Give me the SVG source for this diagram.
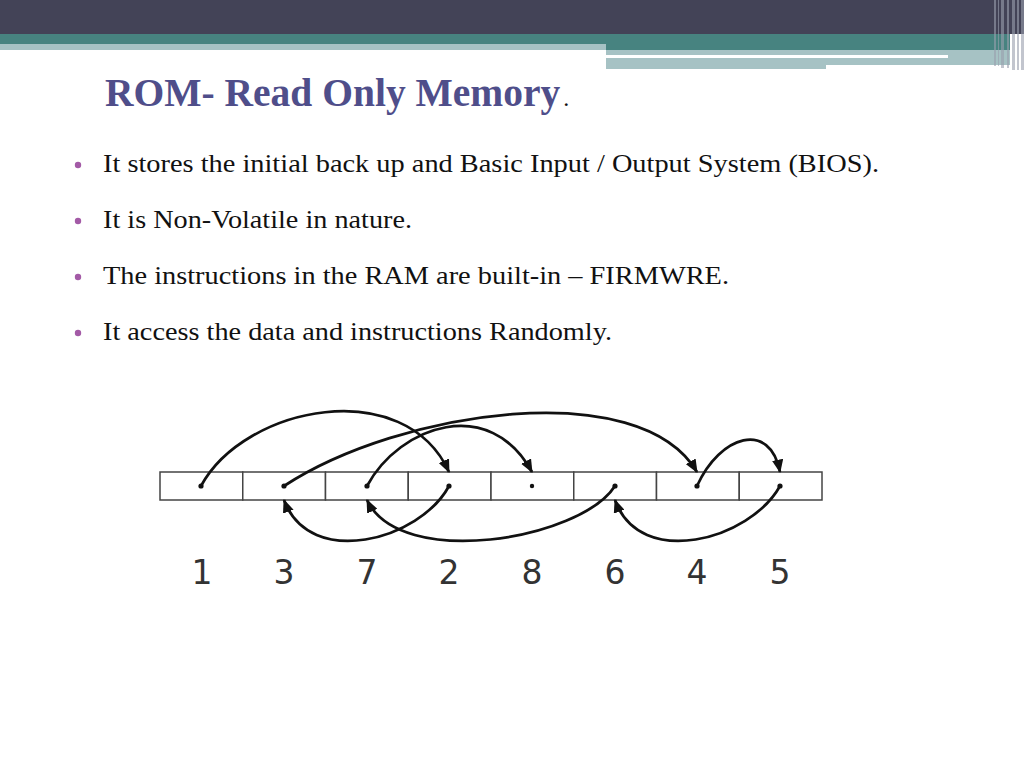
<svg xmlns="http://www.w3.org/2000/svg" width="1024" height="768" viewBox="0 0 1024 768">
<defs>
<style>
.title{font-family:"Liberation Serif","Times New Roman",serif;font-weight:bold;font-size:39.5px;fill:#4f4e8a}
.body{font-family:"Liberation Serif","Times New Roman",serif;font-size:26px;fill:#111}
.bul{fill:#a35aa6}
.cell{fill:#fff;stroke:#444;stroke-width:1.5}
.dot{fill:#111}
.lbl{font-family:"DejaVu Sans",sans-serif;font-size:33px;fill:#333;text-anchor:middle}
.arc{fill:none;stroke:#111;stroke-width:2.7;marker-end:url(#ah)}
.vs{fill:#9aa0ae}
</style>
<marker id="ah" viewBox="0 0 12 10" refX="11" refY="5" markerWidth="5" markerHeight="4.2" orient="auto" markerUnits="strokeWidth">
<path d="M0,0 L12,5 L0,10 z" fill="#111"/>
</marker>
</defs>
<rect width="1024" height="768" fill="#fff"/>
<g id="header">
<rect x="0" y="0" width="1024" height="34" fill="#434357"/>
<rect x="0" y="34" width="1010" height="16" fill="#478380"/>
<rect x="0" y="44" width="606" height="6" fill="#a6c2c4"/>
<rect x="606" y="50" width="404" height="5" fill="#a6c2c4"/>
<rect x="606" y="55" width="342" height="3" fill="#ffffff"/>
<rect x="948" y="55" width="62" height="3" fill="#a6c2c4"/>
<rect x="606" y="58" width="220" height="11" fill="#a6c2c4"/>
<rect x="826" y="58" width="184" height="7" fill="#a6c2c4"/>
<g opacity="0.6">
<rect class="vs" x="994" y="0" width="2" height="66"/>
<rect class="vs" x="998" y="0" width="1" height="66"/>
<rect class="vs" x="1001" y="0" width="3" height="68"/>
<rect class="vs" x="1007" y="0" width="2" height="68"/>
<rect class="vs" x="1012" y="0" width="3" height="70"/>
<rect class="vs" x="1017" y="0" width="2" height="70"/>
<rect class="vs" x="1021" y="0" width="3" height="70"/>
</g>
</g>
<g id="title">
<text class="title" x="105" y="106">ROM- Read Only Memory<tspan dx="3" font-weight="normal" font-size="24" fill="#111">.</tspan></text>
</g>
<g id="bullets">
<circle class="bul" cx="78" cy="165" r="3.2"/>
<text class="body" x="103" y="172" textLength="776" lengthAdjust="spacingAndGlyphs">It stores the initial back up and Basic Input / Output System (BIOS).</text>
<circle class="bul" cx="78" cy="221" r="3.2"/>
<text class="body" x="103" y="228" textLength="309" lengthAdjust="spacingAndGlyphs">It is Non-Volatile in nature.</text>
<circle class="bul" cx="78" cy="277" r="3.2"/>
<text class="body" x="103" y="284" textLength="626" lengthAdjust="spacingAndGlyphs">The instructions in the RAM are built-in – FIRMWRE.</text>
<circle class="bul" cx="78" cy="333" r="3.2"/>
<text class="body" x="103" y="340" textLength="509" lengthAdjust="spacingAndGlyphs">It access the data and instructions Randomly.</text>
</g>
<g id="array">
<rect class="cell" x="160" y="472" width="82.75" height="28"/>
<rect class="cell" x="242.75" y="472" width="82.75" height="28"/>
<rect class="cell" x="325.5" y="472" width="82.75" height="28"/>
<rect class="cell" x="408.25" y="472" width="82.75" height="28"/>
<rect class="cell" x="491" y="472" width="82.75" height="28"/>
<rect class="cell" x="573.75" y="472" width="82.75" height="28"/>
<rect class="cell" x="656.5" y="472" width="82.75" height="28"/>
<rect class="cell" x="739.25" y="472" width="82.75" height="28"/>
<circle class="dot" cx="201" cy="486" r="2.6"/>
<circle class="dot" cx="284" cy="486" r="2.6"/>
<circle class="dot" cx="367" cy="486" r="2.6"/>
<circle class="dot" cx="449" cy="486" r="2.6"/>
<circle class="dot" cx="532" cy="486" r="2.2"/>
<circle class="dot" cx="615" cy="486" r="2.6"/>
<circle class="dot" cx="697" cy="486" r="2.6"/>
<circle class="dot" cx="780" cy="486" r="2.6"/>
</g>
<g id="labels">
<text class="lbl" x="202" y="584">1</text>
<text class="lbl" x="284" y="584">3</text>
<text class="lbl" x="367" y="584">7</text>
<text class="lbl" x="449" y="584">2</text>
<text class="lbl" x="532" y="584">8</text>
<text class="lbl" x="615" y="584">6</text>
<text class="lbl" x="697" y="584">4</text>
<text class="lbl" x="780" y="584">5</text>
</g>
<g id="connectors">
<path class="arc" d="M201,486 C245,405 405,375 449,472"/>
<path class="arc" d="M284,486 C400,410 640,375 697,472"/>
<path class="arc" d="M367,486 C400,425 490,395 532,472"/>
<path class="arc" d="M697,486 C720,435 770,420 780,472"/>
<path class="arc" d="M449,486 C420,540 310,570 284,500"/>
<path class="arc" d="M615,486 C580,540 400,570 367,500"/>
<path class="arc" d="M780,486 C750,540 640,570 615,500"/>
</g>
</svg>
